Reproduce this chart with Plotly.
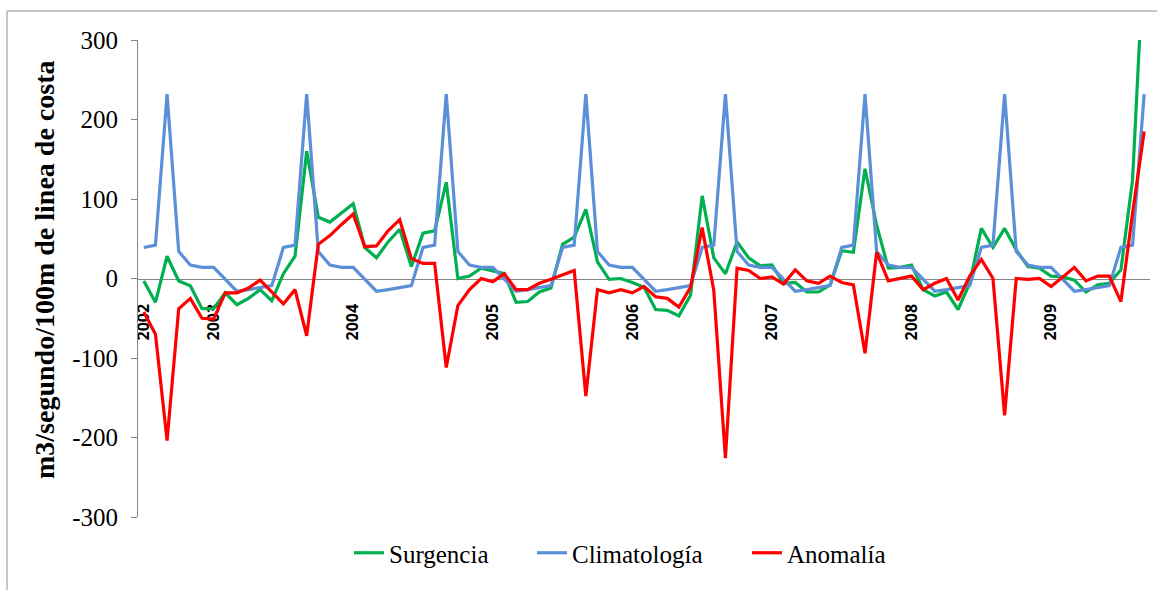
import plotly.graph_objects as go

# Monthly categories, July 2002 to September 2009
meses = [f"{2002 + (6 + k) // 12}-{(6 + k) % 12 + 1:02d}" for k in range(87)]

surgencia = [
    -3, -30, 28, -3, -9, -38, -38, -18, -33, -25, -14, -28,
    6, 28, 160, 77, 71, 83, 94, 39, 26, 46, 62, 15,
    57, 60, 121, 0, 3, 13, 10, 6, -30, -29, -17, -12,
    43, 52, 87, 21, -1, 0, -5, -11, -39, -40, -47, -21,
    104, 26, 6, 46, 26, 16, 17, -6, -5, -17, -17, -8,
    35, 33, 138, 67, 13, 14, 17, -14, -22, -17, -39, -6,
    63, 39, 63, 36, 15, 13, 3, 2, -2, -17, -8, -6,
    11, 124, 417,
]

climatologia = [
    39, 42, 232, 34, 17, 14, 14, -1, -16, -14, -11, -9,
    39, 42, 232, 34, 17, 14, 14, -1, -16, -14, -11, -9,
    39, 42, 232, 34, 17, 14, 14, -1, -16, -14, -11, -9,
    39, 42, 232, 34, 17, 14, 14, -1, -16, -14, -11, -9,
    39, 42, 232, 34, 17, 14, 14, -1, -16, -14, -11, -9,
    39, 42, 232, 34, 17, 14, 14, -1, -16, -14, -11, -9,
    39, 42, 232, 34, 17, 14, 14, -1, -16, -14, -11, -9,
    39, 42, 232,
]

anomalia = [
    -42, -70, -204, -38, -25, -50, -51, -18, -18, -12, -2, -17,
    -32, -14, -72, 43, 54, 68, 81, 40, 41, 60, 74, 25,
    19, 19, -112, -34, -14, 0, -4, 6, -14, -14, -6, -1,
    4, 10, -148, -14, -18, -14, -18, -10, -23, -25, -36, -11,
    64, -15, -226, 13, 10, 0, 2, -7, 11, -3, -6, 3,
    -5, -8, -94, 33, -3, 0, 3, -14, -6, 0, -27, 3,
    24, 0, -172, 0, -1, 0, -10, 2, 14, -3, 3, 3,
    -29, 82, 185,
]

marcas_anio = ["2002-07", "2003-01", "2004-01", "2005-01", "2006-01",
               "2007-01", "2008-01", "2009-01"]
etiquetas_anio = ["2002", "2003", "2004", "2005", "2006", "2007", "2008", "2009"]

y_ticks = [-300, -200, -100, 0, 100, 200, 300]
y_labels = ["-300", "-200", "-100", "0", "100", "200", "300"]

titulo_y = "m3/segundo/100m de linea de costa"

W, H = 1157, 590
ML, MR, MT, MB = 138, 7, 40, 73
pw = W - ML - MR
ph = H - MT - MB


def px_x(px):
    return (px - ML) / pw


def px_y(py):
    return (H - MB - py) / ph


fig = go.Figure()
fig.add_trace(go.Scatter(x=meses, y=surgencia, name="Surgencia", mode="lines",
                         line=dict(color="#00B050", width=3.2), legend="legend"))
fig.add_trace(go.Scatter(x=meses, y=climatologia, name="Climatología", mode="lines",
                         line=dict(color="#5B8FD8", width=3.2), legend="legend2"))
fig.add_trace(go.Scatter(x=meses, y=anomalia, name="Anomalía", mode="lines",
                         line=dict(color="#FF0000", width=3.2), legend="legend3"))

# chart-area border (left and top edges fall inside the page)
fig.add_shape(type="rect", xref="paper", yref="paper",
              x0=px_x(7), x1=px_x(W + 20), y0=px_y(H + 20), y1=px_y(11),
              line=dict(color="#8E8E8E", width=1), layer="below")

# vertical axis title
fig.add_annotation(text=titulo_y, xref="paper", yref="paper",
                   x=px_x(44), y=px_y(270), xanchor="center", yanchor="middle",
                   textangle=-90, showarrow=False,
                   font=dict(family="Liberation Serif", size=28, color="black",
                             weight="bold"))


def legend_at(px):
    return dict(orientation="h", x=px_x(px), xanchor="left",
                y=px_y(553), yanchor="middle",
                font=dict(family="Liberation Serif", size=25, color="black"),
                bgcolor="rgba(0,0,0,0)")


fig.update_layout(
    width=W, height=H,
    margin=dict(l=ML, r=MR, t=MT, b=MB),
    paper_bgcolor="white", plot_bgcolor="white",
    showlegend=True,
    legend=legend_at(349),
    legend2=legend_at(532),
    legend3=legend_at(747),
    xaxis=dict(type="category", categoryorder="array", categoryarray=meses,
               range=[-0.5, 86.5], anchor="free", position=0.5,
               showline=True, linecolor="#868686", linewidth=1,
               showgrid=False, zeroline=False, ticks="",
               tickmode="array", tickvals=marcas_anio, ticktext=etiquetas_anio,
               tickangle=-90, ticklabelstandoff=18,
               tickfont=dict(family="Open Sans", size=16, color="black", weight="bold"),
               layer="below traces"),
    yaxis=dict(range=[-300, 300], tickmode="array", tickvals=y_ticks, ticktext=y_labels,
               showline=True, linecolor="#868686", linewidth=1,
               ticks="outside", ticklen=6, tickcolor="#868686",
               showgrid=False, zeroline=False, ticklabelstandoff=8,
               tickfont=dict(family="Liberation Serif", size=25, color="black")),
)

fig.write_html("out.html")
